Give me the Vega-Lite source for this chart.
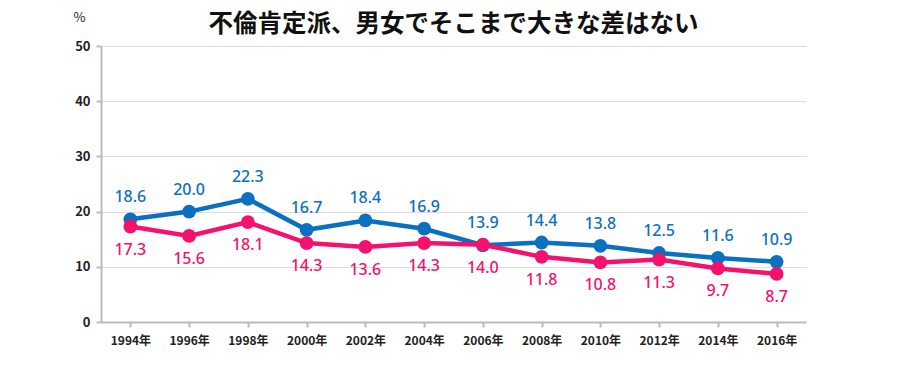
{
  "$schema": "https://vega.github.io/schema/vega-lite/v6.json",
  "autosize": "none",
  "width": 705,
  "height": 276,
  "padding": {"left": 101, "top": 46, "right": 94, "bottom": 69},
  "background": "white",
  "config": {"view": {"stroke": null}, "font": "Noto Sans CJK JP"},
  "title": {"text": "不倫肯定派、男女でそこまで大きな差はない", "fontSize": 24.5, "fontWeight": "bold", "color": "#111111", "anchor": "middle", "offset": 0, "dy": 26, "font": "Noto Sans CJK JP"},
  "data": {"values": [
    {"year": "1994年", "sex": "男性", "value": 18.6},
    {"year": "1996年", "sex": "男性", "value": 20.0},
    {"year": "1998年", "sex": "男性", "value": 22.3},
    {"year": "2000年", "sex": "男性", "value": 16.7},
    {"year": "2002年", "sex": "男性", "value": 18.4},
    {"year": "2004年", "sex": "男性", "value": 16.9},
    {"year": "2006年", "sex": "男性", "value": 13.9},
    {"year": "2008年", "sex": "男性", "value": 14.4},
    {"year": "2010年", "sex": "男性", "value": 13.8},
    {"year": "2012年", "sex": "男性", "value": 12.5},
    {"year": "2014年", "sex": "男性", "value": 11.6},
    {"year": "2016年", "sex": "男性", "value": 10.9},
    {"year": "1994年", "sex": "女性", "value": 17.3},
    {"year": "1996年", "sex": "女性", "value": 15.6},
    {"year": "1998年", "sex": "女性", "value": 18.1},
    {"year": "2000年", "sex": "女性", "value": 14.3},
    {"year": "2002年", "sex": "女性", "value": 13.6},
    {"year": "2004年", "sex": "女性", "value": 14.3},
    {"year": "2006年", "sex": "女性", "value": 14.0},
    {"year": "2008年", "sex": "女性", "value": 11.8},
    {"year": "2010年", "sex": "女性", "value": 10.8},
    {"year": "2012年", "sex": "女性", "value": 11.3},
    {"year": "2014年", "sex": "女性", "value": 9.7},
    {"year": "2016年", "sex": "女性", "value": 8.7}
  ]},
  "encoding": {
    "x": {"field": "year", "type": "ordinal", "scale": {"paddingInner": 0, "paddingOuter": 0},
      "axis": {"title": null, "labelAngle": 0, "labelFontSize": 12, "labelFontWeight": "bold", "labelColor": "#222222", "labelPadding": 8, "bandPosition": 0, "domainColor": "#bbbbbb", "domainWidth": 2, "tickColor": "#bbbbbb", "tickWidth": 2, "tickSize": 5, "tickOffset": 0}},
    "y": {"field": "value", "type": "quantitative", "scale": {"domain": [0, 50]},
      "axis": {"title": "%", "titleAngle": 0, "titleX": -22, "titleY": -22, "titleFontSize": 13, "titleFontWeight": "normal", "titleColor": "#222222", "values": [0, 10, 20, 30, 40, 50], "labelFontSize": 13, "labelFontWeight": "bold", "labelColor": "#222222", "labelPadding": 6, "domainColor": "#bbbbbb", "domainWidth": 2, "tickColor": "#bbbbbb", "tickWidth": 2, "tickSize": 5, "gridColor": "#dddddd", "gridWidth": 1}},
    "color": {"field": "sex", "type": "nominal", "scale": {"domain": ["男性", "女性"], "range": ["#0a70c0", "#f5116e"]}, "legend": null}
  },
  "layer": [
    {"mark": {"type": "line", "strokeWidth": 4.5}},
    {"mark": {"type": "point", "filled": true, "size": 190, "opacity": 1}},
    {"transform": [{"filter": "datum.sex === '男性'"}],
     "mark": {"type": "text", "dy": -22, "fontSize": 16, "fontWeight": 500, "font": "Noto Sans"},
     "encoding": {"text": {"field": "value", "type": "quantitative", "format": ".1f"}}},
    {"transform": [{"filter": "datum.sex === '女性'"}],
     "mark": {"type": "text", "dy": 23, "fontSize": 16, "fontWeight": 500, "font": "Noto Sans"},
     "encoding": {"text": {"field": "value", "type": "quantitative", "format": ".1f"}}}
  ]
}
